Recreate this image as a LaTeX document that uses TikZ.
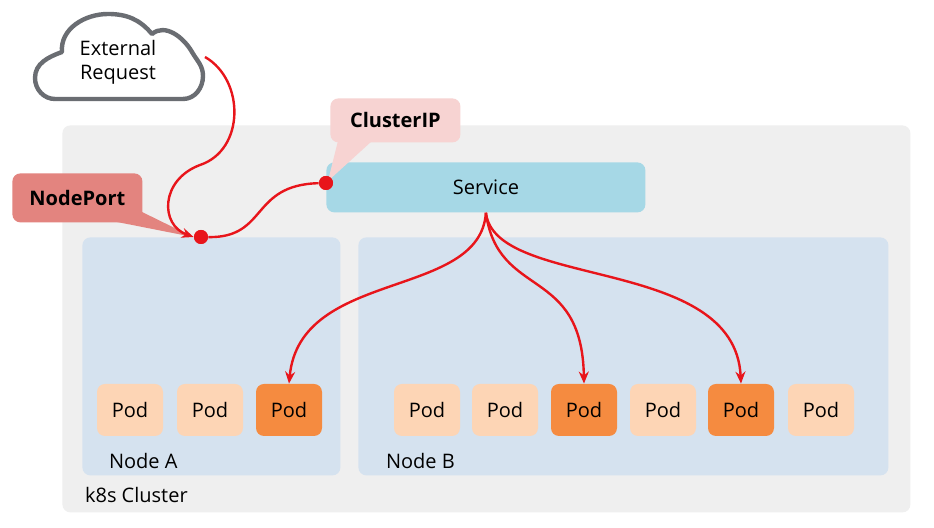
\documentclass[tikz,border=0pt]{standalone}
\usepackage{fontspec}
\setmainfont{Open Sans}
\usetikzlibrary{positioning,arrows.meta}

\definecolor{clusterbg}{HTML}{EFEFEF}
\definecolor{hostbg}{HTML}{D5E2EF}
\definecolor{svcbg}{HTML}{A6D8E6}
\definecolor{podlight}{HTML}{FDD5B5}
\definecolor{poddark}{HTML}{F58B40}
\definecolor{linkred}{HTML}{E8151B}
\definecolor{portbg}{HTML}{E3847F}
\definecolor{ipbg}{HTML}{F7D3D2}
\definecolor{cloudline}{HTML}{6A6D72}

\tikzset{
  box/.style={rectangle, rounded corners=4pt, anchor=north west, inner sep=0pt},
  pod/.style={rectangle, rounded corners=4pt, minimum width=33pt, minimum height=26pt, fill=podlight},
  podhot/.style={pod, fill=poddark},
  tag/.style={box, font=\bfseries},
  dot/.style={circle, fill=linkred, inner sep=0pt, minimum size=7pt},
  link/.style={linkred, line width=1.2pt},
  route/.style={link, -{Stealth[length=6pt,width=5pt]}}
}

\begin{document}
\begin{tikzpicture}[x=0.5pt, y=-0.5pt]

    \useasboundingbox (0,0) rectangle (934,528);
    \fill[white] (0,0) rectangle (934,528);

    % CLUSTER AND HOSTS
    \node[box, fill=clusterbg, minimum width=424pt, minimum height=193.5pt] (cluster) at (62,125) {};
    \node[anchor=west] (clusterlbl) at (78,495) {k8s Cluster};
    \node[box, fill=hostbg, minimum width=129pt, minimum height=119pt] (hosta) at (82,237) {};
    \node[box, fill=hostbg, minimum width=265pt, minimum height=119pt] (hostb) at (358,237) {};
    \node[anchor=west] (hostalbl) at (102,461) {Node A};
    \node[anchor=west] (hostblbl) at (379,461) {Node B};

    % SERVICE
    \node[box, fill=svcbg, minimum width=159.5pt, minimum height=25pt] (svc) at (326,162) {};
    \node (svclbl) at (svc.center) {Service};

    % PODS
    \foreach \x/\n/\s in {130/a1/pod, 210/a2/pod, 289/a3/podhot,
                          427/b1/pod, 505/b2/pod, 584/b3/podhot,
                          663/b4/pod, 741/b5/podhot, 821/b6/pod}
        \node[\s] (\n) at (\x,410) {Pod};

    % CALLOUTS
    \fill[portbg] (112,221) -- (138,210) -- (193,237) -- cycle;
    \node[tag, fill=portbg, minimum width=65pt, minimum height=24.5pt] (nodeport) at (12,173) {};
    \node (nodeportlbl) at (nodeport.center) {\bfseries NodePort};
    \fill[ipbg] (338,141) -- (372,141) -- (328,181) -- cycle;
    \node[tag, fill=ipbg, minimum width=65pt, minimum height=22pt] (clusterip) at (330,98) {};
    \node (clusteriplbl) at (clusterip.center) {\bfseries ClusterIP};

    % EXTERNAL REQUEST
    \filldraw[fill=white, draw=cloudline, line width=2.2pt, line join=round]
        (55,99) to[out=180,in=-90] (35,78) to[out=90,in=200] (62,52)
        to[out=95,in=180] (108,14) to[out=0,in=130] (152,34)
        to[out=40,in=120] (192,52) to[out=-60,in=90] (203,76)
        to[out=-90,in=0] (183,99) -- cycle;
    \node[align=center, inner sep=1pt] (ext) at (118,62) {External\\Request};

    % TRAFFIC
    \node[dot] (portdot) at (201,237) {};
    \node[dot] (ipdot) at (326,183) {};
    \coordinate (extout) at (205,57);
    \draw[route] (extout) .. controls (245,80) and (245,150) .. (200,165)
                 .. controls (160,180) and (160,225) .. (portdot.west);
    \draw[link] (portdot) .. controls (268,238) and (250,185) .. (ipdot);
    \draw[route] (svc.south) .. controls (480,300) and (300,268) .. (a3.north);
    \draw[route] (svc.south) .. controls (498,300) and (582,265) .. (b3.north);
    \draw[route] (svc.south) .. controls (495,290) and (735,255) .. (b5.north);
    \node[dot] at (portdot) {};
    \node[dot] at (ipdot) {};

\end{tikzpicture}
\end{document}
